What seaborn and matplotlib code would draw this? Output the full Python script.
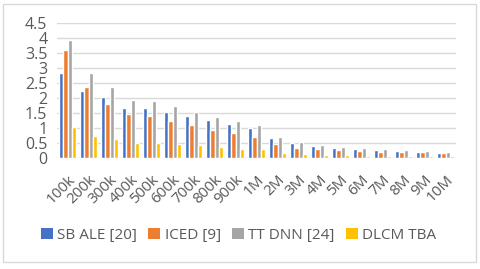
import pandas as pd
import matplotlib.pyplot as plt
import seaborn as sns
from matplotlib.patches import Rectangle

sizes = ["100k", "200k", "300k", "400k", "500k", "600k", "700k", "800k", "900k", "1M",
         "2M", "3M", "4M", "5M", "6M", "7M", "8M", "9M", "10M"]
sb_ale = [2.84, 2.25, 2.02, 1.66, 1.66, 1.54, 1.40, 1.26, 1.14, 1.02,
          0.66, 0.51, 0.42, 0.35, 0.31, 0.27, 0.24, 0.21, 0.18]
iced = [3.61, 2.35, 1.79, 1.47, 1.39, 1.24, 1.10, 0.95, 0.83, 0.72,
        0.47, 0.35, 0.30, 0.27, 0.25, 0.22, 0.21, 0.20, 0.18]
tt_dnn = [3.94, 2.82, 2.37, 1.94, 1.90, 1.74, 1.55, 1.37, 1.23, 1.09,
          0.71, 0.54, 0.44, 0.39, 0.34, 0.31, 0.26, 0.24, 0.20]
dlcm_tba = [1.05, 0.75, 0.63, 0.51, 0.50, 0.46, 0.43, 0.37, 0.32, 0.30,
            0.19, 0.14, 0.12, 0.11, 0.09, 0.08, 0.08, 0.07, 0.06]
methods = ["SB ALE [20]", "ICED [9]", "TT DNN [24]", "DLCM TBA"]
colors = ["#4472C4", "#ED7D31", "#A5A5A5", "#FFC000"]

df = pd.DataFrame({"size": sizes, methods[0]: sb_ale, methods[1]: iced,
                   methods[2]: tt_dnn, methods[3]: dlcm_tba})
df = df.melt(id_vars="size", var_name="method", value_name="value")

sns.set_style("white")
plt.rcParams["font.family"] = ["Open Sans", "DejaVu Sans"]
txt = "#595959"

fig = plt.figure(figsize=(4.8, 2.69), dpi=100)
ax = fig.add_axes([0.119, 0.4115, 0.831, 0.5041])
sns.barplot(data=df, x="size", y="value", hue="method", palette=colors,
            width=0.82, saturation=1, ax=ax, errorbar=None)

ax.set_ylim(0, 4.5)
ax.set_yticks([0, 0.5, 1, 1.5, 2, 2.5, 3, 3.5, 4, 4.5])
ax.set_yticklabels(["0", "0.5", "1", "1.5", "2", "2.5", "3", "3.5", "4", "4.5"])
ax.set_xlim(-0.5, len(sizes) - 0.5)
ax.grid(axis="y", color="#d9d9d9", lw=1)
ax.set_axisbelow(True)
for s in ax.spines.values():
    s.set_visible(False)
ax.set_xlabel("")
ax.set_ylabel("")
ax.tick_params(axis="y", length=0, colors=txt, labelsize=11.5, pad=7)
ax.tick_params(axis="x", length=0, colors=txt, labelsize=11, pad=10)
plt.setp(ax.get_xticklabels(), rotation=45, ha="right", rotation_mode="anchor")

leg = ax.legend(loc="center", bbox_to_anchor=(0.497, 0.126), bbox_transform=fig.transFigure,
                ncol=4, frameon=False, fontsize=11, labelcolor=txt,
                handlelength=0.8, handleheight=0.8, handletextpad=0.3, columnspacing=0.7)
for h in leg.legend_handles:
    h.set_linewidth(0)

fig.patches.append(Rectangle((3 / 480, 7 / 269), 473 / 480, 258 / 269,
                             transform=fig.transFigure, fill=False,
                             edgecolor="#d9d9d9", lw=1))

fig.savefig("out.png", dpi=100)
